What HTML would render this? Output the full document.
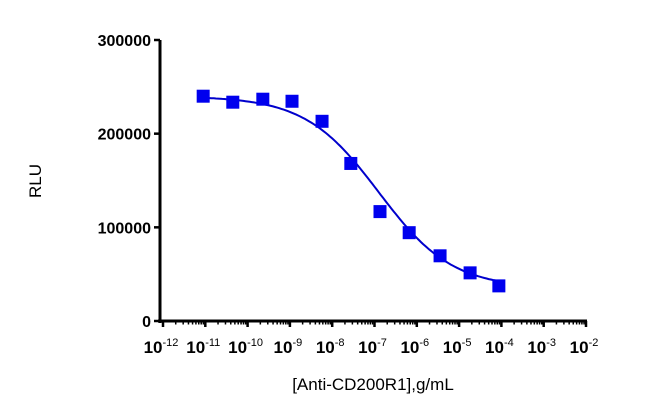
<!DOCTYPE html>
<html><head><meta charset="utf-8"><style>
html,body{margin:0;padding:0;background:#fff;}
svg{display:block;font-family:"Liberation Sans",Arial,sans-serif;}
</style></head><body>
<svg id="chart" width="650" height="412" viewBox="0 0 650 412" xmlns="http://www.w3.org/2000/svg">
<g id="axes"></g>
<g id="marks"></g>
<text transform="translate(41,181) rotate(-90)" text-anchor="middle" font-size="17" fill="#000">RLU</text>
<text x="373" y="390" text-anchor="middle" font-size="17" fill="#000">[Anti-CD200R1],g/mL</text>
</svg>
<script>
const logConc = [-11.05,-10.35,-9.64,-8.95,-8.24,-7.56,-6.87,-6.18,-5.45,-4.74,-4.06];
const rlu = [240000,233600,236800,234600,213200,168200,116800,94300,69600,51400,37500];
const fitParams = [240000,35000,-6.9,0.5]; // top,bottom,logEC50,hill
const xTickExps = [-12,-11,-10,-9,-8,-7,-6,-5,-4,-3,-2];
const yTicks = [0,100000,200000,300000];
const yTickLabels = ["0","100000","200000","300000"];

const NS="http://www.w3.org/2000/svg";
const X0=163,X1=586,Y0=321,Y1=40;
const xs=l=>X0+(l+12)/10*(X1-X0);
const ys=v=>Y0-v/300000*(Y0-Y1);
function mk(t,a,p){const e=document.createElementNS(NS,t);for(const k in a)e.setAttribute(k,a[k]);p.appendChild(e);return e;}
const ax=document.getElementById('axes'), mg=document.getElementById('marks');

let e=mk('line',{x1:160,y1:Y1,x2:160,y2:Y0+2,stroke:'#000','stroke-width':3},ax);


e=mk('line',{x1:158,y1:Y0,x2:X1+1,y2:Y0,stroke:'#000','stroke-width':3},ax);



yTicks.forEach((v,i)=>{
 const y=ys(v);
 let t=mk('line',{x1:154,y1:y,x2:160,y2:y,stroke:'#000','stroke-width':2.5},ax);
 
 
 let l=mk('text',{x:151,y:y+6,'text-anchor':'end','font-size':16,'font-weight':'bold',fill:'#000'},ax);
 l.textContent=yTickLabels[i];
 
 
});
xTickExps.forEach((p,i)=>{
 const x=xs(p);
 let t=mk('line',{x1:x,y1:Y0,x2:x,y2:Y0+6,stroke:'#000','stroke-width':2.5},ax);
 
 
 if(i<xTickExps.length-1){for(let m=2;m<10;m++){const xm=xs(p+Math.log10(m));
  let mt=mk('line',{x1:xm,y1:Y0,x2:xm,y2:Y0+3.5,stroke:'#000','stroke-width':1.5},ax);
  
  }}
 let l=mk('text',{x:x-2,y:353,'text-anchor':'middle','font-size':17,'font-weight':'bold',fill:'#000'},ax);
 
 
 const s1=document.createElementNS(NS,'tspan');s1.textContent='10';l.appendChild(s1);
 const s2=document.createElementNS(NS,'tspan');s2.setAttribute('dy','-7');s2.setAttribute('font-size','11');s2.setAttribute('font-weight','normal');s2.textContent=String(p);l.appendChild(s2);
});

const fTop=fitParams[0],fBot=fitParams[1],fEc=fitParams[2],fH=fitParams[3];
let d='';
for(let l=logConc[0];l<=logConc[logConc.length-1]+0.001;l+=0.05){
 const v=fBot+(fTop-fBot)/(1+Math.pow(10,(l-fEc)*fH));
 d+=(d?'L':'M')+xs(l).toFixed(1)+','+ys(v).toFixed(1);
}
let c=mk('path',{d:d,fill:'none',stroke:'#0000cc','stroke-width':2},mg);


logConc.forEach((l,i)=>{
 const x=xs(l),y=ys(rlu[i]);
 let r=mk('rect',{x:x-6.5,y:y-6.5,width:13,height:13,fill:'#0000ee'},mg);
 
 
});
</script>
</body></html>
